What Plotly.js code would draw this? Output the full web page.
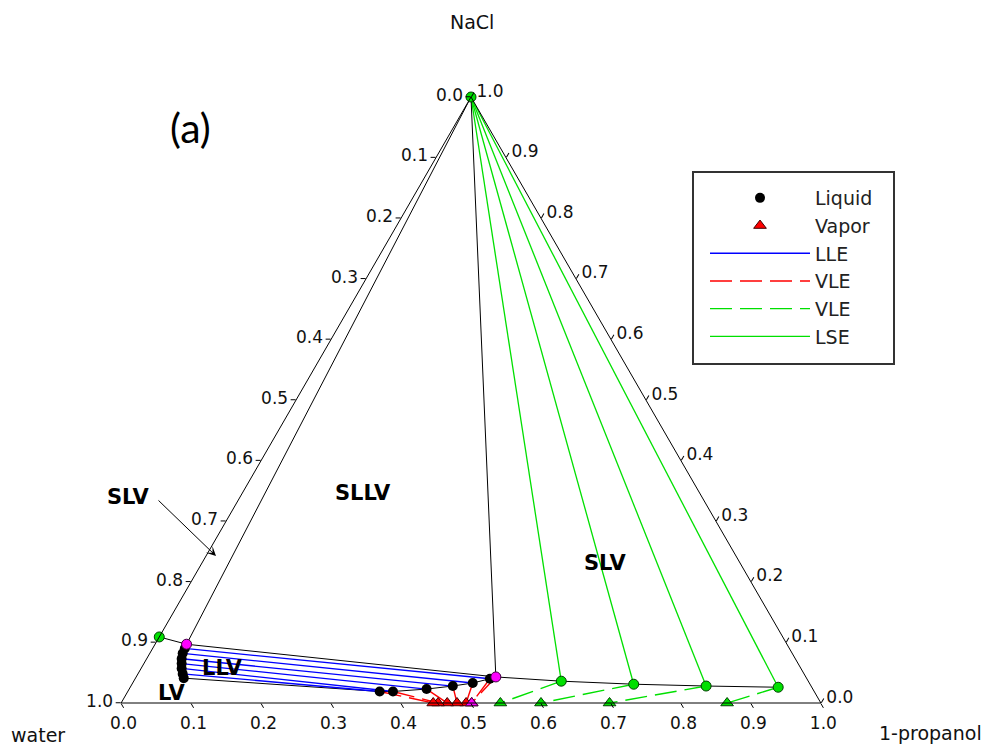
<!DOCTYPE html>
<html><head><meta charset="utf-8">
<script src="https://cdn.plot.ly/plotly-3.0.1.min.js"></script>
<style>html,body{margin:0;padding:0;background:#fff}#chart{width:989px;height:746px}</style>
</head><body><div id="chart"></div>
<script>
// ---- compositions (mole fractions): NaCl / water / 1-propanol ----
// pure solid NaCl vertex
const solidNaCl = [1], solidWater = [0], solidProp = [0];
// aqueous branch of the LLE binodal (top to bottom)
const aqNaCl  = [0.090, 0.082, 0.073, 0.065, 0.057, 0.048];
const aqWater = [0.864, 0.871, 0.877, 0.881, 0.885, 0.888];
const aqProp  = [0.046, 0.047, 0.050, 0.054, 0.058, 0.064];
// organic branch, tie-line partners of aq*
const orgNaCl  = [0.040, 0.033, 0.028, 0.023, 0.019, 0.019];
const orgWater = [0.453, 0.481, 0.512, 0.552, 0.602, 0.621];
const orgProp  = [0.507, 0.486, 0.460, 0.425, 0.379, 0.360];
// lowest point of the aqueous branch
const closeNaCl = [0.041], closeWater = [0.890], closeProp = [0.069];
// vapour in equilibrium with org* liquids
const vapNaCl  = [0, 0, 0, 0, 0, 0];
const vapWater = [0.499, 0.507, 0.520, 0.534, 0.547, 0.554];
const vapProp  = [0.501, 0.493, 0.480, 0.466, 0.453, 0.446];
// three-phase liquids (aqueous, organic) and vapour
const tpNaCl  = [0.097, 0.043], tpWater = [0.858, 0.443], tpProp = [0.045, 0.514];
const tpVapNaCl = [0], tpVapWater = [0.499], tpVapProp = [0.501];
// NaCl-saturated liquids (first one on water-NaCl edge)
const satNaCl  = [0.109, 0.036, 0.031, 0.028, 0.026];
const satWater = [0.891, 0.353, 0.252, 0.150, 0.048];
const satProp  = [0.000, 0.611, 0.717, 0.822, 0.926];
// vapours in equilibrium with saturated liquids satX[1..4]
const satVapNaCl  = [0, 0, 0, 0];
const satVapWater = [0.458, 0.400, 0.302, 0.134];
const satVapProp  = [0.542, 0.600, 0.698, 0.866];
// axis ticks
const tickValues = [0, 0.1, 0.2, 0.3, 0.4, 0.5, 0.6, 0.7, 0.8, 0.9, 1.0];
const tickLabels = ['1.0','0.9','0.8','0.7','0.6','0.5','0.4','0.3','0.2','0.1','0.0'];

const FONT = '"DejaVu Sans", Verdana, sans-serif';
const GREEN = '#00e000';
const traces = [];
function line(a, b, c, style, extra) {
  traces.push(Object.assign({type:'scatterternary', mode:'lines', a:a, b:b, c:c,
    line:style, showlegend:false, hoverinfo:'skip'}, extra || {}));
}
function markers(a, b, c, marker, extra) {
  traces.push(Object.assign({type:'scatterternary', mode:'markers', a:a, b:b, c:c,
    marker:marker, showlegend:false, hoverinfo:'skip', cliponaxis:false}, extra || {}));
}
// LSE lines: NaCl vertex -> saturated liquids
for (let i = 1; i < satNaCl.length; i++) {
  line([solidNaCl[0], satNaCl[i]], [solidWater[0], satWater[i]], [solidProp[0], satProp[i]],
    {color:GREEN, width:1.3},
    i === 1 ? {showlegend:true, name:'LSE', legendrank:6} : {});
}
// three-phase triangle sides
for (let i = 0; i < 2; i++) {
  line([solidNaCl[0], tpNaCl[i]], [solidWater[0], tpWater[i]], [solidProp[0], tpProp[i]], {color:'black', width:1});
}
// solubility curve
line([satNaCl[0], tpNaCl[0], tpNaCl[1]].concat(satNaCl.slice(1)),
     [satWater[0], tpWater[0], tpWater[1]].concat(satWater.slice(1)),
     [satProp[0], tpProp[0], tpProp[1]].concat(satProp.slice(1)), {color:'black', width:1});
// binodal
line([tpNaCl[0]].concat(aqNaCl, closeNaCl, orgNaCl.slice().reverse(), [tpNaCl[1]]),
     [tpWater[0]].concat(aqWater, closeWater, orgWater.slice().reverse(), [tpWater[1]]),
     [tpProp[0]].concat(aqProp, closeProp, orgProp.slice().reverse(), [tpProp[1]]), {color:'black', width:1});
// LLE tie lines
for (let i = 0; i < aqNaCl.length; i++) {
  line([aqNaCl[i], orgNaCl[i]], [aqWater[i], orgWater[i]], [aqProp[i], orgProp[i]],
    {color:'#0000ff', width:1.3},
    i === 0 ? {showlegend:true, name:'LLE', legendrank:3} : {});
}
// VLE (liquid-liquid-vapour) red dashed
for (let i = 0; i < orgNaCl.length; i++) {
  line([orgNaCl[i], vapNaCl[i]], [orgWater[i], vapWater[i]], [orgProp[i], vapProp[i]],
    {color:'#ff0000', width:1.4, dash:'22px,8px'},
    i === 0 ? {showlegend:true, name:'VLE', legendrank:4} : {});
}
line([tpNaCl[1], tpVapNaCl[0]], [tpWater[1], tpVapWater[0]], [tpProp[1], tpVapProp[0]],
  {color:'#ff0000', width:1.4, dash:'22px,8px'});
// VLE green dashed (saturated liquids)
for (let i = 0; i < satVapNaCl.length; i++) {
  line([satNaCl[i+1], satVapNaCl[i]], [satWater[i+1], satVapWater[i]], [satProp[i+1], satVapProp[i]],
    {color:GREEN, width:1.4, dash:'22px,8px'},
    i === 0 ? {showlegend:true, name:'VLE ', legendrank:5} : {});
}
// markers
markers(aqNaCl.concat(closeNaCl, orgNaCl), aqWater.concat(closeWater, orgWater), aqProp.concat(closeProp, orgProp),
  {symbol:'circle', size:10, color:'black'}, {showlegend:true, name:'Liquid', legendrank:1});
markers(vapNaCl, vapWater, vapProp,
  {symbol:'triangle-up', size:11, color:'#ff0000', line:{color:'#400000', width:1}},
  {showlegend:true, name:'Vapor', legendrank:2});
markers(solidNaCl.concat(satNaCl), solidWater.concat(satWater), solidProp.concat(satProp),
  {symbol:'circle', size:10, color:GREEN, line:{color:'#004000', width:1}});
markers(satVapNaCl, satVapWater, satVapProp,
  {symbol:'triangle-up', size:11, color:GREEN, line:{color:'#004000', width:1}});
markers(tpNaCl, tpWater, tpProp,
  {symbol:'circle', size:10, color:'#ff00ff', line:{color:'#400040', width:1}});
markers(tpVapNaCl, tpVapWater, tpVapProp,
  {symbol:'triangle-up', size:11, color:'#ff00ff', line:{color:'#400040', width:1}});

function axis() {
  return {tickmode:'array', tickvals:tickValues, ticktext:tickLabels, ticks:'outside', ticklen:5,
    tickcolor:'black', showgrid:false, showline:true, linecolor:'black', linewidth:1,
    tickfont:{family:FONT, size:17, color:'#111'}, title:{text:''}, min:0};
}
const px = v => (v - 121) / 700, py = v => (703 - v) / 606;
function txt(text, x, y, font) {
  return {text:text, x:px(x), y:py(y), xref:'paper', yref:'paper', showarrow:false,
    xanchor:'center', yanchor:'middle', font:font};
}
const bold = {family:'"DejaVu Sans", sans-serif', size:21, color:'black', weight:700};
const annotations = [
  txt('NaCl', 472, 22, {family:FONT, size:19, color:'#111'}),
  txt('water', 38, 735, {family:FONT, size:19, color:'#111'}),
  txt('1-propanol', 930, 733, {family:FONT, size:19, color:'#111'}),
  txt('(a)', 190, 127, {family:'Lato, sans-serif', size:41, color:'black'}),
  txt('<b>SLV</b>', 128, 497, bold),
  txt('<b>SLLV</b>', 363, 493, bold),
  txt('<b>SLV</b>', 605, 563, bold),
  txt('<b>LLV</b>', 222, 668, bold),
  txt('<b>LV</b>', 171, 693, bold),
  {text:'', x:px(216), y:py(556), xref:'paper', yref:'paper', showarrow:true,
   ax:-59, ay:-57, arrowhead:3, arrowsize:1.6, arrowwidth:1, arrowcolor:'black'}
];
const layout = {
  width:989, height:746,
  margin:{l:121, r:168, t:97, b:43},
  paper_bgcolor:'white',
  font:{family:FONT, color:'black'},
  ternary:{sum:1, bgcolor:'white', aaxis:axis(), baxis:axis(), caxis:axis()},
  showlegend:true,
  legend:{x:px(705), y:py(179), xanchor:'left', yanchor:'top', bgcolor:'rgba(0,0,0,0)',
    borderwidth:0, font:{family:FONT, size:19, color:'#222'}, itemwidth:100, traceorder:'normal'},
  shapes:[{type:'rect', xref:'paper', yref:'paper', x0:px(693), x1:px(894), y0:py(364), y1:py(172),
    line:{color:'#333', width:2}, fillcolor:'rgba(0,0,0,0)'}],
  annotations:annotations
};
Plotly.newPlot('chart', traces, layout, {displayModeBar:false, staticPlot:true});
</script></body></html>
